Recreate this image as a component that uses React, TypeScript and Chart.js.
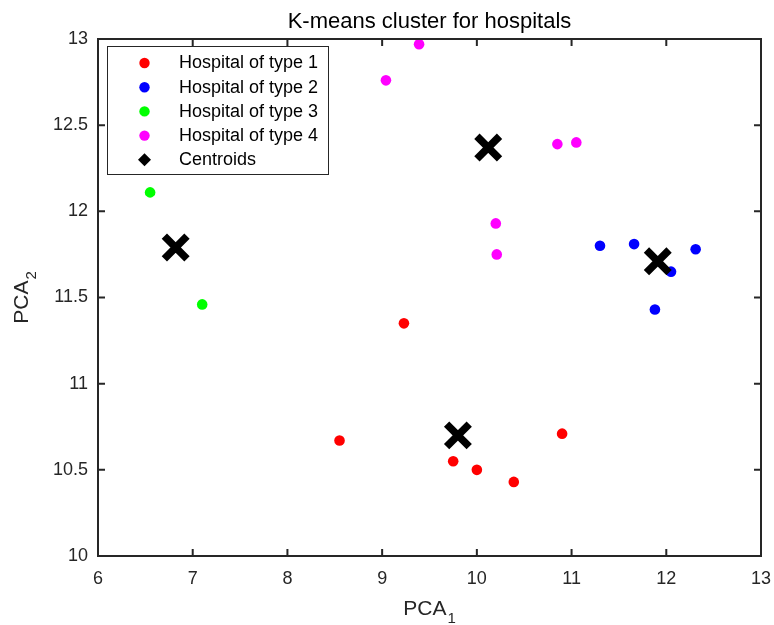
import React, { useEffect, useRef } from "react";
import { Chart, registerables } from "chart.js";

Chart.register(...registerables);

const chartTitle = "K-means cluster for hospitals";
const legendLabels = ["Hospital of type 1", "Hospital of type 2", "Hospital of type 3", "Hospital of type 4", "Centroids"];
const seriesColors = ["#ff0000", "#0000ff", "#00ff00", "#ff00ff", "#000000"];

const type1X = [9.23, 8.55, 9.75, 10.0, 10.39, 10.9];
const type1Y = [11.35, 10.67, 10.55, 10.5, 10.43, 10.71];
const type2X = [11.3, 11.66, 12.05, 12.31, 11.88];
const type2Y = [11.8, 11.81, 11.65, 11.78, 11.43];
const type3X = [6.55, 7.1];
const type3Y = [12.11, 11.46];
const type4X = [9.39, 9.04, 10.85, 11.05, 10.2, 10.21];
const type4Y = [12.97, 12.76, 12.39, 12.4, 11.93, 11.75];
const centroidX = [9.8, 11.91, 6.82, 10.12];
const centroidY = [10.7, 11.71, 11.79, 12.37];

const xTicks = [6, 7, 8, 9, 10, 11, 12, 13];
const yTicks = [10, 10.5, 11, 11.5, 12, 12.5, 13];
const xAxisMain = "PCA";
const xAxisSub = "1";
const yAxisMain = "PCA";
const yAxisSub = "2";

const FONT = "'Liberation Sans', Arial, Helvetica, sans-serif";
const AXIS_COLOR = "#262626";

function pts(xs: number[], ys: number[]) {
  return xs.map((x, i) => ({ x, y: ys[i] }));
}

function drawSubLabel(ctx: CanvasRenderingContext2D, main: string, sub: string) {
  ctx.font = `21px ${FONT}`;
  const wMain = ctx.measureText(main).width;
  ctx.font = `15px ${FONT}`;
  const wSub = ctx.measureText(sub).width;
  const total = wMain + 1 + wSub;
  const start = -total / 2;
  ctx.textAlign = "left";
  ctx.textBaseline = "alphabetic";
  ctx.fillStyle = AXIS_COLOR;
  ctx.font = `21px ${FONT}`;
  ctx.fillText(main, start, 0);
  ctx.font = `15px ${FONT}`;
  ctx.fillText(sub, start + wMain + 1, 8);
}

const decorPlugin = {
  id: "matlabDecor",
  afterDraw(chart: any) {
    const { ctx, chartArea: a, scales } = chart;
    const xs = scales.x;
    const ys = scales.y;
    ctx.save();
    // box and inward ticks
    ctx.strokeStyle = AXIS_COLOR;
    ctx.lineWidth = 2;
    ctx.beginPath();
    const tl = 7;
    xTicks.forEach((v) => {
      const px = xs.getPixelForValue(v);
      ctx.moveTo(px, a.bottom);
      ctx.lineTo(px, a.bottom - tl);
      ctx.moveTo(px, a.top);
      ctx.lineTo(px, a.top + tl);
    });
    yTicks.forEach((v) => {
      const py = ys.getPixelForValue(v);
      ctx.moveTo(a.left, py);
      ctx.lineTo(a.left + tl, py);
      ctx.moveTo(a.right, py);
      ctx.lineTo(a.right - tl, py);
    });
    ctx.stroke();
    ctx.strokeRect(a.left, a.top, a.right - a.left, a.bottom - a.top);

    // legend
    const lx = a.left + 9.5;
    const ly = a.top + 7.5;
    const lw = 221;
    const lh = 128;
    ctx.fillStyle = "#ffffff";
    ctx.fillRect(lx, ly, lw, lh);
    ctx.lineWidth = 1;
    ctx.strokeStyle = AXIS_COLOR;
    ctx.strokeRect(lx, ly, lw, lh);
    ctx.font = `18px ${FONT}`;
    ctx.textBaseline = "middle";
    ctx.textAlign = "left";
    chart.data.datasets.forEach((ds: any, i: number) => {
      const cy = ly + 16.5 + i * 24.2;
      const mx = lx + 37;
      ctx.fillStyle = ds.legendColor;
      ctx.beginPath();
      if (ds.pointStyle === "crossRot") {
        const d = 6.5;
        ctx.moveTo(mx, cy - d);
        ctx.lineTo(mx + d, cy);
        ctx.lineTo(mx, cy + d);
        ctx.lineTo(mx - d, cy);
        ctx.closePath();
      } else {
        ctx.arc(mx, cy, 5.2, 0, Math.PI * 2);
      }
      ctx.fill();
      ctx.fillStyle = "#000000";
      ctx.fillText(ds.label, lx + 71.5, cy + 0.5);
    });

    // axis titles
    ctx.save();
    ctx.translate((a.left + a.right) / 2, 615);
    drawSubLabel(ctx, xAxisMain, xAxisSub);
    ctx.restore();
    ctx.save();
    ctx.translate(28, (a.top + a.bottom) / 2);
    ctx.rotate(-Math.PI / 2);
    drawSubLabel(ctx, yAxisMain, yAxisSub);
    ctx.restore();

    ctx.restore();
  },
};

export default function App() {
  const canvasRef = useRef<HTMLCanvasElement | null>(null);

  useEffect(() => {
    const canvas = canvasRef.current;
    if (!canvas) return;
    const groups = [
      pts(type1X, type1Y),
      pts(type2X, type2Y),
      pts(type3X, type3Y),
      pts(type4X, type4Y),
    ];
    const datasets: any[] = groups.map((g, i) => ({
      label: legendLabels[i],
      data: g,
      backgroundColor: seriesColors[i],
      legendColor: seriesColors[i],
      borderWidth: 0,
      pointRadius: 5.3,
      pointHoverRadius: 5.3,
      order: 1,
    }));
    datasets.push({
      label: legendLabels[4],
      data: pts(centroidX, centroidY),
      pointStyle: "crossRot",
      legendColor: seriesColors[4],
      borderColor: seriesColors[4],
      backgroundColor: seriesColors[4],
      borderWidth: 7.5,
      pointRadius: 16,
      pointHoverRadius: 16,
      order: 0,
    });

    const chart = new Chart(canvas, {
      type: "scatter",
      data: { datasets },
      options: {
        animation: false,
        responsive: false,
        devicePixelRatio: 1,
        events: [],
        layout: { padding: { left: 0, right: 13, top: 0, bottom: 0 } },
        plugins: {
          legend: { display: false },
          tooltip: { enabled: false },
          title: {
            display: true,
            text: chartTitle,
            fullSize: false,
            color: "#000000",
            font: { family: FONT, size: 22, weight: "normal", lineHeight: 1.2 },
            padding: { top: 8.8, bottom: 3.8 },
          },
        },
        scales: {
          x: {
            type: "linear",
            min: 6,
            max: 13,
            afterBuildTicks: (s: any) => {
              s.ticks = xTicks.map((v) => ({ value: v }));
            },
            afterFit: (s: any) => {
              s.height = 69;
              s.paddingLeft = 0;
              s.paddingRight = 0;
            },
            grid: { display: false, drawTicks: true, tickLength: 12, color: "rgba(0,0,0,0)" },
            border: { display: false },
            ticks: {
              padding: 0,
              color: AXIS_COLOR,
              maxRotation: 0,
              font: { family: FONT, size: 18 },
              callback: (v: any) => String(Number(v)),
            },
          },
          y: {
            type: "linear",
            min: 10,
            max: 13,
            afterBuildTicks: (s: any) => {
              s.ticks = yTicks.map((v) => ({ value: v }));
            },
            afterFit: (s: any) => {
              s.width = 98;
              s.paddingTop = 0;
              s.paddingBottom = 0;
            },
            grid: { display: false, drawTicks: true, tickLength: 10, color: "rgba(0,0,0,0)" },
            border: { display: false },
            ticks: {
              padding: 0,
              color: AXIS_COLOR,
              font: { family: FONT, size: 18 },
              callback: (v: any) => String(Number(v)),
            },
          },
        },
      },
      plugins: [decorPlugin],
    } as any);

    // marker overflow should not shrink the plot box (MATLAB axes keep their position)
    chart.data.datasets.forEach((_: any, i: number) => {
      const meta: any = chart.getDatasetMeta(i);
      if (meta && meta.controller) {
        meta.controller.getMaxOverflow = () => 0;
      }
    });
    chart.update();

    return () => {
      chart.destroy();
    };
  }, []);

  return (
    <div style={{ position: "absolute", left: 0, top: 0, width: 774, height: 625, background: "#ffffff" }}>
      <canvas ref={canvasRef} width={774} height={625} style={{ display: "block" }} />
    </div>
  );
}
